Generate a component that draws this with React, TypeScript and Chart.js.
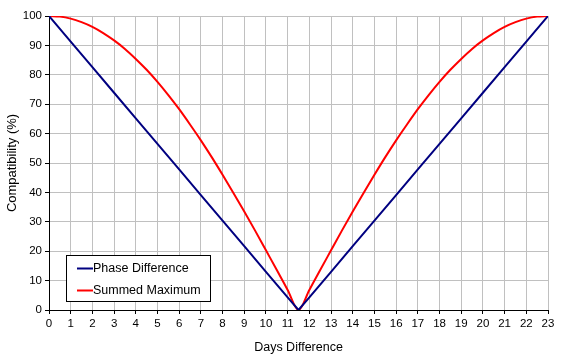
import React, { useEffect, useRef } from "react";
import { Chart, registerables } from "chart.js";

Chart.register(...registerables);

const phaseDays = [0, 1, 2, 3, 4, 5, 6, 7, 8, 9, 10, 11, 11.5, 12, 13, 14, 15, 16, 17, 18, 19, 20, 21, 22, 23];
const phaseValues = [100, 91.3, 82.6, 73.9, 65.2, 56.5, 47.8, 39.1, 30.4, 21.7, 13.0, 4.3, 0, 4.3, 13.0, 21.7, 30.4, 39.1, 47.8, 56.5, 65.2, 73.9, 82.6, 91.3, 100];

const summedDays = [0, 0.5, 1, 1.5, 2, 2.5, 3, 3.5, 4, 4.5, 5, 5.5, 6, 6.5, 7, 7.5, 8, 8.5, 9, 9.5, 10, 10.5, 11, 11.5, 12, 12.5, 13, 13.5, 14, 14.5, 15, 15.5, 16, 16.5, 17, 17.5, 18, 18.5, 19, 19.5, 20, 20.5, 21, 21.5, 22, 22.5, 23];
const summedValues = [100, 99.8, 99.1, 97.9, 96.3, 94.2, 91.7, 88.8, 85.4, 81.7, 77.6, 73.1, 68.3, 63.1, 57.7, 52.0, 46.0, 39.8, 33.5, 27.0, 20.3, 13.6, 6.8, 0, 6.8, 13.6, 20.3, 27.0, 33.5, 39.8, 46.0, 52.0, 57.7, 63.1, 68.3, 73.1, 77.6, 81.7, 85.4, 88.8, 91.7, 94.2, 96.3, 97.9, 99.1, 99.8, 100];

const seriesNames = ["Phase Difference", "Summed Maximum"];
const seriesColors = ["#000080", "#ff0000"];
const xTitle = "Days Difference";
const yTitle = "Compatibility (%)";

const FONT = "'Liberation Sans', Arial, sans-serif";

const legendBoxPlugin = {
  id: "legendBox",
  afterDraw(chart: any) {
    const ctx = chart.ctx;
    const x = 66.5, y = 255.5, w = 144, h = 46;
    ctx.save();
    ctx.fillStyle = "#ffffff";
    ctx.fillRect(x, y, w, h);
    ctx.strokeStyle = "#000000";
    ctx.lineWidth = 1;
    ctx.strokeRect(x, y, w, h);
    ctx.font = "12.5px " + FONT;
    ctx.textBaseline = "middle";
    ctx.textAlign = "left";
    const rows = [268.5, 290.5];
    seriesNames.forEach((name, i) => {
      ctx.strokeStyle = seriesColors[i];
      ctx.lineWidth = 2;
      ctx.beginPath();
      ctx.moveTo(77, rows[i]);
      ctx.lineTo(93, rows[i]);
      ctx.stroke();
      ctx.fillStyle = "#000000";
      ctx.fillText(name, 93, rows[i]);
    });
    ctx.restore();
  },
};

export default function App() {
  const ref = useRef<HTMLCanvasElement>(null);
  useEffect(() => {
    document.body.style.margin = "0";
    const canvas = ref.current!;
    const chart = new Chart(canvas, {
      type: "line",
      data: {
        datasets: [
          {
            label: seriesNames[0],
            data: phaseDays.map((d, i) => ({ x: d, y: phaseValues[i] })),
            borderColor: seriesColors[0],
            borderWidth: 2,
            pointRadius: 0,
            tension: 0,
          },
          {
            label: seriesNames[1],
            data: summedDays.map((d, i) => ({ x: d, y: summedValues[i] })),
            borderColor: seriesColors[1],
            borderWidth: 2,
            pointRadius: 0,
            cubicInterpolationMode: "monotone",
          },
        ],
      },
      options: {
        responsive: false,
        animation: false,
        layout: { padding: { left: 0, top: 16, right: 33, bottom: 0 } },
        plugins: {
          legend: { display: false },
          tooltip: { enabled: false },
        },
        scales: {
          x: {
            type: "linear",
            min: 0,
            max: 23,
            afterFit: (s: any) => { s.height = 45; },
            ticks: {
              stepSize: 1,
              color: "#000",
              font: { family: FONT, size: 11.5 },
              padding: 3,
              maxRotation: 0,
              autoSkip: false,
            },
            grid: { color: "#c0c0c0", tickColor: "#000", tickLength: 4 },
            border: { color: "#000" },
            title: {
              display: true,
              text: xTitle,
              color: "#000",
              font: { family: FONT, size: 12.5 },
              padding: { top: 2, bottom: 0 },
            },
          },
          y: {
            min: 0,
            max: 100,
            afterFit: (s: any) => { s.width = 49; },
            ticks: {
              stepSize: 10,
              color: "#000",
              font: { family: FONT, size: 11.5 },
              padding: 3,
            },
            grid: { color: "#c0c0c0", tickColor: "#000", tickLength: 4 },
            border: { color: "#000" },
            title: {
              display: true,
              text: yTitle,
              color: "#000",
              font: { family: FONT, size: 13 },
              padding: { top: 5, bottom: 2 },
            },
          },
        },
      },
      plugins: [legendBoxPlugin],
    } as any);
    return () => chart.destroy();
  }, []);
  return <canvas ref={ref} width={581} height={355} style={{ display: "block" }} />;
}
